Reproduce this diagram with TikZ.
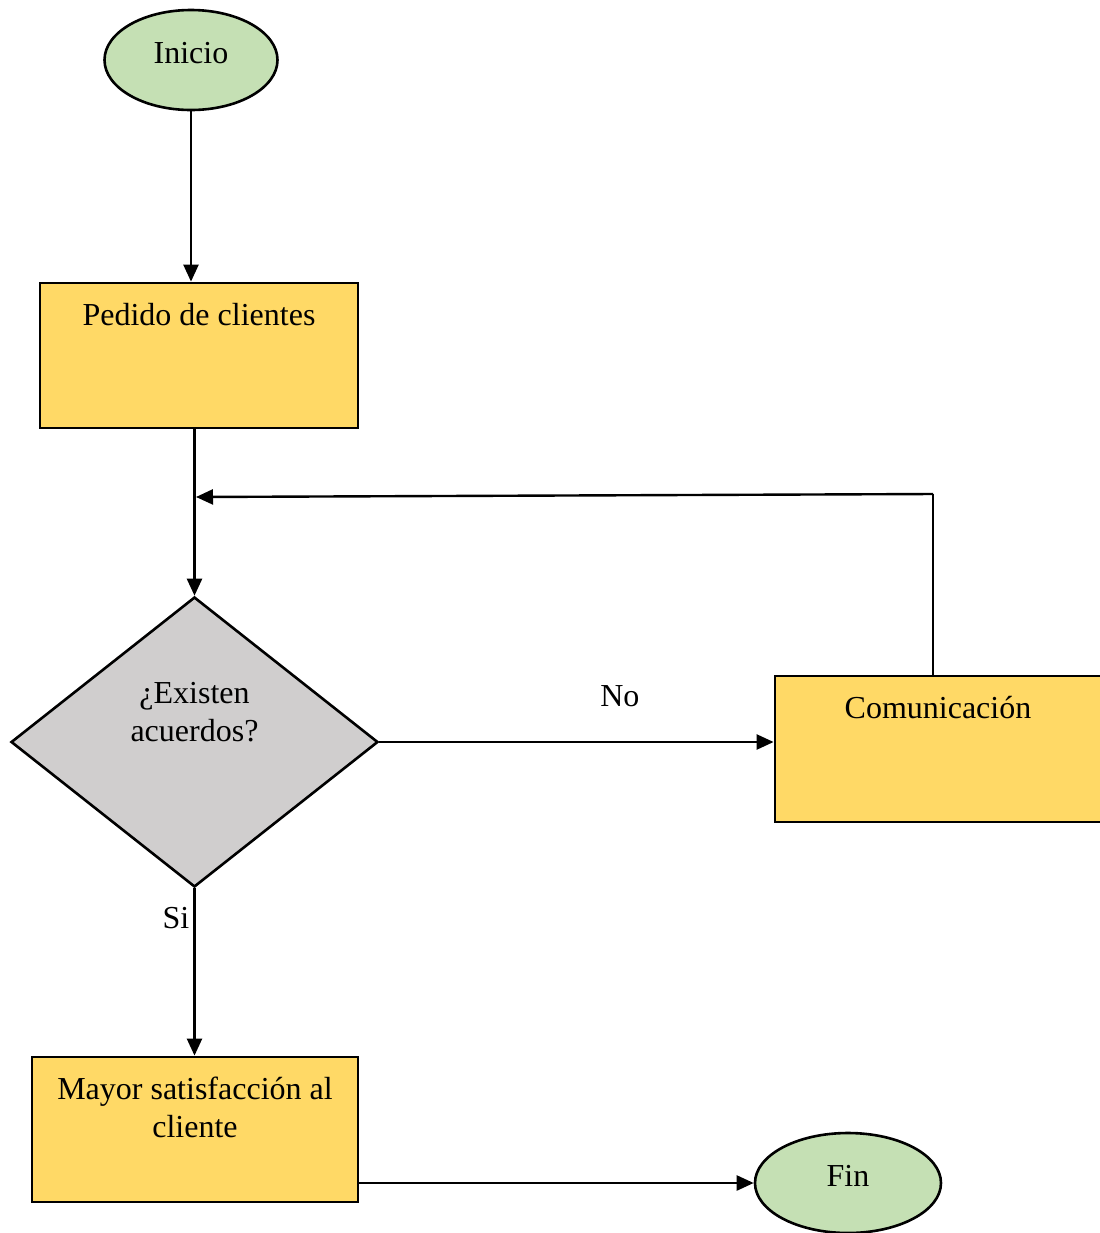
\documentclass[tikz,border=0pt]{standalone}
\usepackage{fontspec}
\setmainfont{Liberation Serif}
\usetikzlibrary{shapes.geometric,arrows.meta}
\definecolor{termgreen}{HTML}{C5E0B4}
\definecolor{taskyellow}{HTML}{FFD966}
\definecolor{askgrey}{HTML}{D0CECE}
\tikzset{
  terminal/.style={ellipse, draw, line width=1.3pt, fill=termgreen, minimum width=86.5pt, minimum height=50pt, text depth=7pt},
  task/.style={rectangle, draw, line width=1.4pt, fill=taskyellow, minimum height=72.5pt},
  decision/.style={diamond, draw, line width=1.3pt, fill=askgrey, inner sep=0pt, minimum width=183.5pt, minimum height=145pt},
  top text/.style={label={[anchor=north, yshift=-10.5pt, inner sep=0pt, align=center]north:#1}},
}
\begin{document}
\begin{tikzpicture}[x=0.5pt, y=-0.5pt, font=\fontsize{16}{19}\selectfont]
  \useasboundingbox (0,0) rectangle (1099,1233);
  \draw
    (191,60) node[terminal] (inicio){Inicio}
    (199,355.5) node[task, minimum width=159pt, top text={Pedido de clientes}] (pedido){}
    (194.5,742) node[decision, label={[anchor=north, yshift=-43pt, inner sep=0pt, align=center]north:¿Existen\\acuerdos?}] (acuerdos){}
    (945,749) node[task, minimum width=170pt, minimum height=73pt, label={[anchor=north, xshift=-3.5pt, yshift=-10.5pt, inner sep=0pt]north:Comunicación}] (comunic){}
    (195,1129.5) node[task, minimum width=163pt, top text={Mayor satisfacción al\\cliente}] (mayor){}
    (848,1183) node[terminal, minimum width=93pt] (fin){Fin};
  \coordinate (loop) at (933,494);
  \coordinate (merge) at (196,497);
  \begin{scope}[-{Triangle[length=8.5pt, width=7.5pt]}, line width=1.2pt]
    \draw (inicio.south) to (inicio.south |- pedido.north);
    \draw (acuerdos.north |- pedido.south) to (acuerdos.north);
    \draw (acuerdos.east) to node[pos=0.61, above=13.5pt] (no){No} (acuerdos.east -| comunic.west);
    \draw (acuerdos.south) to node[pos=0.18, left, inner sep=2pt] (si){Si} (acuerdos.south |- mayor.north);
    \draw (mayor.east |- fin.west) to (fin.west);
    \draw (loop) to (merge);
  \end{scope}
  \draw[line width=0.7pt] (comunic.north -| loop) -- (loop);
\end{tikzpicture}
\end{document}
